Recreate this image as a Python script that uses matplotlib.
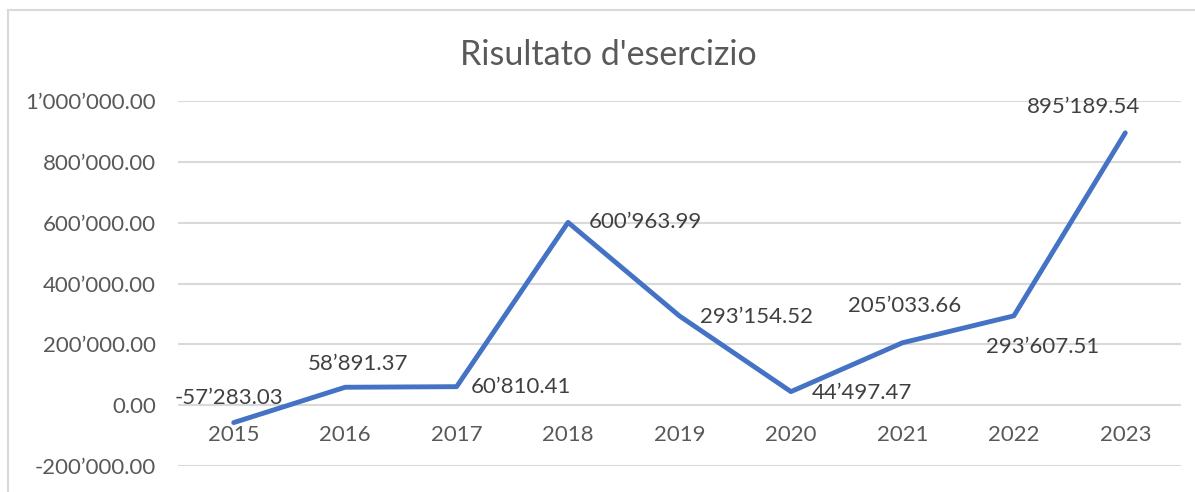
import matplotlib.pyplot as plt
from matplotlib.lines import Line2D
from matplotlib.ticker import FuncFormatter

# values
years = ["2015", "2016", "2017", "2018", "2019", "2020", "2021", "2022", "2023"]
risultato = [-57283.03, 58891.37, 60810.41, 600963.99, 293154.52,
             44497.47, 205033.66, 293607.51, 895189.54]
# label offsets (pixels) relative to each point, like Excel placed them
label_dx = [-5, 13, 64, 77, 77, 71, 2, 29, -42]
label_dy = [25, 23, 0, 0, -1, -1, 37, -31, 26]

y_ticks = [-200000, 0, 200000, 400000, 600000, 800000, 1000000]

BLUE = '#4472C4'
GRID = '#D9D9D9'
TXT = '#595959'
LBL = '#404040'

plt.rcParams['font.family'] = ['Lato', 'DejaVu Sans']


def swiss(v, pos=None):
    s = f"{v:,.2f}"
    return s.replace(',', '\u2019')


W, H = 1195, 492
fig = plt.figure(figsize=(W / 100, H / 100), dpi=100)

# chart frame (top and left edges visible)
fig.add_artist(Line2D([8 / W, 1], [1 - 10 / H, 1 - 10 / H], color=GRID, lw=1.5))
fig.add_artist(Line2D([8 / W, 8 / W], [1 - 10 / H, 0], color=GRID, lw=1.5))

ax = fig.add_axes([178 / W, 1 - 466 / H, (1181 - 178) / W, (466 - 101) / H])
x = list(range(len(years)))
ax.plot(x, risultato, color=BLUE, lw=3.5, solid_capstyle='round', solid_joinstyle='round', zorder=3)

ax.set_xlim(-0.5, len(years) - 0.5)
ax.set_ylim(y_ticks[0], y_ticks[-1])
ax.set_yticks(y_ticks)
ax.yaxis.set_major_formatter(FuncFormatter(swiss))
ax.tick_params(axis='y', length=0, pad=16, labelsize=16, labelcolor=TXT)
ax.set_xticks([])
ax.grid(axis='y', color=GRID, lw=1.5)
ax.set_axisbelow(True)
for sp in ax.spines.values():
    sp.set_visible(False)

# category labels sit just under the zero line
for i, yr in enumerate(years):
    ax.annotate(yr, (i, 0), xytext=(0, -30), textcoords='offset pixels',
                ha='center', va='center', fontsize=16, color=TXT)

for i, v in enumerate(risultato):
    ax.annotate(swiss(v), (i, v), xytext=(label_dx[i], label_dy[i]),
                textcoords='offset pixels', ha='center', va='center',
                fontsize=16, color=LBL)

fig.text(608 / W, 1 - 55 / H, "Risultato d'esercizio", ha='center', va='center',
         fontsize=24.5, color=TXT)

fig.savefig('out.png', dpi=100)
